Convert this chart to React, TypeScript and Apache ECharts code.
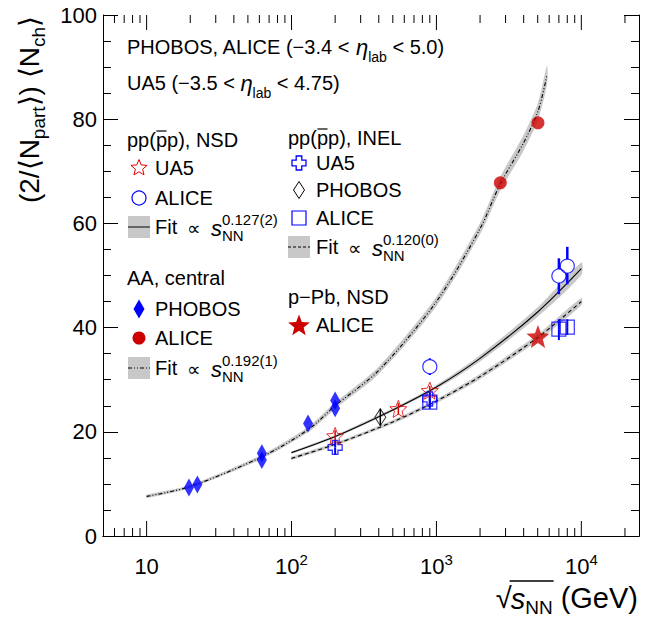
import React, { useEffect, useRef } from "react";
import * as echarts from "echarts";

const FONT = '"Liberation Sans", Arial, Helvetica, sans-serif';
const BLUE = "#0000ff";
const RED = "#cc0000";
const RED_OPEN = "#e00000";
const GRAY = "#c8c8c8";

// ---- axes ----
const xMin = 5;
const xMax = 25000;
const xMajorTicks = [10, 100, 1000, 10000];
const xMinorTicks = [6, 7, 8, 9, 20, 30, 40, 50, 60, 70, 80, 90, 200, 300, 400, 500, 600, 700, 800, 900,
  2000, 3000, 4000, 5000, 6000, 7000, 8000, 9000, 20000];
const xTickLabels: Record<number, string> = { 10: "10", 100: "10{sup|2}", 1000: "10{sup|3}", 10000: "10{sup|4}" };
const yMin = 0;
const yMax = 100;
const yInterval = 20;

// ---- data: [sqrt(sNN) GeV, value] ----
const ua5Nsd = [[200, 19.2], [546, 24.4], [900, 27.9]];
const ua5NsdErr = [[200, 19.2, 18.2, 20.3], [546, 24.4, 23.3, 25.5], [900, 27.9, 27.0, 28.8]];
const aliceNsd = [[900, 32.5], [7000, 49.9], [8000, 51.8]];
const aliceNsdErr = [[900, 32.5, 30.9, 34.1], [7000, 49.9, 46.4, 53.3], [8000, 51.8, 48.3, 55.5]];
const ua5Inel = [[200, 17.0], [900, 26.3]];
const ua5InelErr = [[200, 17.0, 15.6, 18.4], [900, 26.3, 25.1, 27.5]];
const phobosInel = [[410, 22.8]];
const phobosInelErr = [[410, 22.8, 21.2, 24.4]];
const aliceInel = [[900, 25.7], [7000, 39.7], [8000, 40.1]];
const aliceInelErr = [[900, 25.7, 24.4, 27.0], [7000, 39.7, 37.6, 41.6], [8000, 40.1, 38.6, 41.6]];
const phobosAA = [[19.6, 9.3], [22.4, 9.9], [62.4, 14.6], [62.4, 15.9], [130, 21.6], [200, 24.5], [200, 26.0]];
const aliceAA = [[2760, 67.8], [5020, 79.3]];
const alicePPb = [[5020, 38.3]];

// ---- fit curves ----
const fitNsdX = [100, 200, 500, 1000, 2000, 5000, 10000];
const fitNsdY = [16.0, 19.1, 24.2, 28.6, 34.1, 43.0, 51.3];
const fitNsdBand = [0.2, 0.25, 0.3, 0.4, 0.6, 0.9, 1.2];
const fitInelX = [100, 200, 500, 1000, 2000, 5000, 10000];
const fitInelY = [14.9, 17.6, 21.9, 25.9, 30.6, 38.1, 45.0];
const fitInelBand = [0.3, 0.3, 0.35, 0.4, 0.5, 0.6, 0.7];
const fitAAX = [10, 20, 62.4, 130, 200, 400, 1000, 2000, 2760, 4000, 5020, 5800];
const fitAAY = [7.6, 9.5, 15.2, 20.4, 25.0, 31.8, 45.0, 59.0, 67.6, 75.5, 81.5, 88.5];
const fitAABand = [0.3, 0.3, 0.4, 0.5, 0.6, 0.7, 0.9, 1.1, 1.3, 1.5, 1.6, 1.8];

function starPts(cx: number, cy: number, R: number, inner: number) {
  const pts: number[][] = [];
  for (let i = 0; i < 10; i++) {
    const r = i % 2 === 0 ? R : R * inner;
    const a = -Math.PI / 2 + (i * Math.PI) / 5;
    pts.push([cx + r * Math.cos(a), cy + r * Math.sin(a)]);
  }
  return pts;
}
function starPath(inner: number) {
  const p = starPts(50, 50, 50, inner);
  return "path://" + p.map((q, i) => (i ? "L" : "M") + q[0].toFixed(2) + "," + q[1].toFixed(2)).join(" ") + " Z";
}
function crossPts(cx: number, cy: number, s: number) {
  const a = s / 2, b = s * 0.2;
  return [[cx - a, cy - b], [cx - b, cy - b], [cx - b, cy - a], [cx + b, cy - a], [cx + b, cy - b], [cx + a, cy - b],
    [cx + a, cy + b], [cx + b, cy + b], [cx + b, cy + a], [cx - b, cy + a], [cx - b, cy + b], [cx - a, cy + b]];
}
function crossPath() {
  const p = crossPts(50, 50, 100);
  return "path://" + p.map((q, i) => (i ? "L" : "M") + q[0] + "," + q[1]).join(" ") + " Z";
}

let measureCtx: CanvasRenderingContext2D | null = null;
function tw(text: string, size: number, italic = false) {
  if (!measureCtx) measureCtx = document.createElement("canvas").getContext("2d");
  if (!measureCtx) return text.length * size * 0.55;
  measureCtx.font = `${italic ? "italic " : ""}${size}px ${FONT}`;
  return measureCtx.measureText(text).width;
}

function errSeries(data: number[][], color: string, gap: number, width: number) {
  return {
    type: "custom",
    data,
    encode: { x: 0, y: [1, 2, 3] },
    z: 3,
    silent: true,
    renderItem: (_p: any, api: any) => {
      const x = api.value(0), y = api.value(1), lo = api.value(2), hi = api.value(3);
      const pc = api.coord([x, y]);
      const pl = api.coord([x, lo]);
      const ph = api.coord([x, hi]);
      const children: any[] = [];
      const st = { stroke: color, lineWidth: width };
      if (ph[1] < pc[1] - gap) children.push({ type: "line", shape: { x1: pc[0], y1: ph[1], x2: pc[0], y2: pc[1] - gap }, style: st });
      if (pl[1] > pc[1] + gap) children.push({ type: "line", shape: { x1: pc[0], y1: pc[1] + gap, x2: pc[0], y2: pl[1] }, style: st });
      return { type: "group", children };
    },
  };
}

function bandSeries(xs: number[], ys: number[], hw: number[]) {
  return {
    type: "custom",
    data: [[xs[0], ys[0]]],
    z: 1,
    silent: true,
    renderItem: (_p: any, api: any) => {
      const up: number[][] = [];
      const dn: number[][] = [];
      for (let i = 0; i < xs.length; i++) {
        up.push(api.coord([xs[i], ys[i] + hw[i]]));
        dn.push(api.coord([xs[i], ys[i] - hw[i]]));
      }
      return {
        type: "polygon",
        shape: { points: up.concat(dn.reverse()), smooth: 0.25 },
        style: { fill: GRAY, stroke: "none" },
      };
    },
  };
}

function lineSeries(xs: number[], ys: number[], type: any) {
  return {
    type: "line",
    data: xs.map((x, i) => [x, ys[i]]),
    showSymbol: false,
    symbol: "none",
    smooth: 0.3,
    silent: true,
    z: 2,
    lineStyle: { color: "#000", width: 1.1, type },
  };
}

function scatter(data: number[][], symbol: string, size: any, itemStyle: any, z = 5) {
  return { type: "scatter", data, symbol, symbolSize: size, itemStyle, z, silent: true };
}

const openStyle = (c: string, w = 1.3) => ({ color: "rgba(255,255,255,0)", borderColor: c, borderWidth: w });

function txt(x: number, y: number, text: string, size = 20, extra: any = {}) {
  return {
    type: "text",
    x,
    y,
    z: 100,
    style: { text, fontSize: size, fontFamily: FONT, fill: "#000", align: "left", verticalAlign: "middle", ...extra },
  };
}

function fitLabel(x: number, y: number, exp: string) {
  return [
    txt(x, y, "Fit"),
    txt(x + 32, y + 1, "\u221D", 19),
    txt(x + 56, y + 1, "s", 22, { fontStyle: "italic" }),
    txt(x + 67, y - 8, exp, 15),
    txt(x + 67, y + 8, "NN", 15),
  ];
}

function ppHeader(x: number, y: number, rest: string) {
  const x1 = x + tw("pp(", 20);
  const x2 = x + tw("pp(p", 20);
  return [
    txt(x, y, "pp(pp)" + rest),
    { type: "line", z: 100, shape: { x1: x1 + 0.5, y1: y - 9, x2: x2 - 0.5, y2: y - 9 }, style: { stroke: "#000", lineWidth: 1.2 } },
  ];
}

function gray(cx: number, cy: number, w: number, dash: any) {
  return [
    { type: "rect", z: 99, shape: { x: cx - w / 2, y: cy - w / 2, width: w, height: w }, style: { fill: GRAY } },
    { type: "line", z: 100, shape: { x1: cx - w / 2, y1: cy, x2: cx + w / 2, y2: cy }, style: { stroke: "#000", lineWidth: 1, lineDash: dash } },
  ];
}

export default function App() {
  const ref = useRef<HTMLDivElement>(null);
  useEffect(() => {
    if (!ref.current) return;
    const chart = echarts.init(ref.current, null, { renderer: "svg" });

    const Lm = 139, Lt = 155, Rm = 299, Rt = 316;

    // x title pieces, laid out right to left
    const xtSize = 29;
    const gevW = tw("(GeV)", xtSize);
    const gevX = 638 - gevW;
    const nnW = tw("NN", 19);
    const nnX = gevX - tw(" ", xtSize) - nnW;
    const sW = tw("s", xtSize, true);
    const sX = nnX - sW;
    const sqW = tw("\u221A", xtSize);
    const sqX = sX - sqW + 1;
    const xtY = 598;

    const graphic: any[] = [
      {
        type: "text", x: 127, y: 47, z: 100,
        style: {
          text: "PHOBOS, ALICE (\u22123.4 < {eta|\u03B7}{sub|lab} < 5.0)",
          fontSize: 20, fontFamily: FONT, fill: "#000", align: "left", verticalAlign: "middle", lineHeight: 34,
          rich: {
            eta: { fontSize: 22, fontStyle: "italic", fontFamily: FONT, lineHeight: 22 },
            sub: { fontSize: 14, fontFamily: FONT, lineHeight: 14, verticalAlign: "bottom" },
          },
        },
      },
      {
        type: "text", x: 127, y: 83, z: 100,
        style: {
          text: "UA5 (\u22123.5 < {eta|\u03B7}{sub|lab} < 4.75)",
          fontSize: 20, fontFamily: FONT, fill: "#000", align: "left", verticalAlign: "middle", lineHeight: 34,
          rich: {
            eta: { fontSize: 22, fontStyle: "italic", fontFamily: FONT, lineHeight: 22 },
            sub: { fontSize: 14, fontFamily: FONT, lineHeight: 14, verticalAlign: "bottom" },
          },
        },
      },
      ...ppHeader(127, 140, ", NSD"),
      { type: "polygon", z: 100, shape: { points: starPts(Lm, 168, 8.5, 0.45) }, style: { fill: "none", stroke: RED_OPEN, lineWidth: 1 } },
      txt(Lt, 168, "UA5"),
      { type: "circle", z: 100, shape: { cx: Lm, cy: 198, r: 7 }, style: { fill: "none", stroke: BLUE, lineWidth: 1.2 } },
      txt(Lt, 198, "ALICE"),
      ...gray(Lm, 227, 22, null),
      ...fitLabel(Lt, 227, "0.127(2)"),
      txt(127, 278, "AA, central"),
      { type: "polygon", z: 100, shape: { points: [[Lm, 309 - 9.5], [Lm + 5.5, 309], [Lm, 309 + 9.5], [Lm - 5.5, 309]] }, style: { fill: BLUE } },
      txt(Lt, 309, "PHOBOS"),
      { type: "circle", z: 100, shape: { cx: Lm, cy: 338, r: 6.5 }, style: { fill: RED } },
      txt(Lt, 338, "ALICE"),
      ...gray(Lm, 368, 22, [4, 2, 1, 2, 1, 2]),
      ...fitLabel(Lt, 368, "0.192(1)"),

      ...ppHeader(288, 138, ", INEL"),
      { type: "polygon", z: 100, shape: { points: crossPts(Rm, 163, 14) }, style: { fill: "none", stroke: BLUE, lineWidth: 1.3 } },
      txt(Rt, 163, "UA5"),
      { type: "polygon", z: 100, shape: { points: [[Rm, 190 - 8.5], [Rm + 5.5, 190], [Rm, 190 + 8.5], [Rm - 5.5, 190]] }, style: { fill: "none", stroke: "#000", lineWidth: 1 } },
      txt(Rt, 190, "PHOBOS"),
      { type: "rect", z: 100, shape: { x: Rm - 7, y: 218 - 7, width: 14, height: 14 }, style: { fill: "none", stroke: BLUE, lineWidth: 1.2 } },
      txt(Rt, 218, "ALICE"),
      ...gray(Rm, 247, 22, [3, 2]),
      ...fitLabel(Rt, 247, "0.120(0)"),
      txt(288, 297, "p\u2212Pb, NSD"),
      { type: "polygon", z: 100, shape: { points: starPts(Rm, 326, 11.5, 0.42) }, style: { fill: RED } },
      txt(Rt, 325, "ALICE"),

      // y title
      {
        type: "text", x: 29, y: 16, rotation: Math.PI / 2, z: 100,
        style: {
          text: "(2/\u27E8N{sub|part}\u27E9) \u27E8N{sub|ch}\u27E9",
          fontSize: 28, fontFamily: FONT, fill: "#000", align: "right", verticalAlign: "middle", lineHeight: 38,
          rich: { sub: { fontSize: 19, fontFamily: FONT, lineHeight: 19, verticalAlign: "bottom" } },
        },
      },
      // x title
      txt(sqX, xtY, "\u221A", xtSize),
      { type: "line", z: 100, shape: { x1: sqX + sqW - 2, y1: xtY - 17, x2: nnX + nnW + 1, y2: xtY - 17 }, style: { stroke: "#000", lineWidth: 1.3 } },
      txt(sX, xtY + 1, "s", xtSize, { fontStyle: "italic" }),
      txt(nnX, xtY + 9, "NN", 19),
      txt(gevX, xtY, "(GeV)", xtSize),
    ];

    const tickData = [...xMajorTicks.map((v) => [v, 1]), ...xMinorTicks.map((v) => [v, 0])];

    const option: any = {
      animation: false,
      grid: { left: 103, right: 12, top: 15, bottom: 84 },
      xAxis: [
        {
          type: "log", logBase: 10, min: xMin, max: xMax, position: "bottom",
          axisLine: { show: true, lineStyle: { color: "#000", width: 1 } },
          axisTick: { show: false },
          splitLine: { show: false },
          axisLabel: {
            show: true, margin: 16, fontSize: 22, fontFamily: FONT, color: "#000", lineHeight: 28,
            showMinLabel: false, showMaxLabel: false,
            formatter: (v: number) => {
              const k = Math.round(v);
              return xTickLabels[k] !== undefined ? xTickLabels[k] : "";
            },
            rich: { sup: { fontSize: 15, lineHeight: 15, fontFamily: FONT, verticalAlign: "top" } },
          },
        },
        {
          type: "log", logBase: 10, min: xMin, max: xMax, position: "top",
          axisLine: { show: true, lineStyle: { color: "#000", width: 1 } },
          axisTick: { show: false }, axisLabel: { show: false }, splitLine: { show: false },
        },
      ],
      yAxis: [
        {
          type: "value", min: yMin, max: yMax, interval: yInterval, position: "left",
          axisLine: { show: true, lineStyle: { color: "#000", width: 1 } },
          axisTick: { show: true, inside: true, length: 15, lineStyle: { color: "#000" } },
          minorTick: { show: true, splitNumber: 4, length: 8, lineStyle: { color: "#000" } },
          splitLine: { show: false },
          axisLabel: { margin: 6, fontSize: 22, fontFamily: FONT, color: "#000" },
        },
        {
          type: "value", min: yMin, max: yMax, interval: yInterval, position: "right",
          axisLine: { show: true, lineStyle: { color: "#000", width: 1 } },
          axisTick: { show: true, inside: true, length: 15, lineStyle: { color: "#000" } },
          minorTick: { show: true, splitNumber: 4, length: 8, lineStyle: { color: "#000" } },
          splitLine: { show: false },
          axisLabel: { show: false },
        },
      ],
      series: [
        {
          type: "custom", data: tickData, encode: { x: 0, y: 1 }, silent: true, z: 0,
          renderItem: (params: any, api: any) => {
            const v = api.value(0);
            const big = api.value(1);
            const x = api.coord([v, 0])[0];
            const cs = params.coordSys;
            const len = big ? 15 : 8;
            const st = { stroke: "#000", lineWidth: 1 };
            return {
              type: "group",
              children: [
                { type: "line", shape: { x1: x, y1: cs.y + cs.height, x2: x, y2: cs.y + cs.height - len }, style: st },
                { type: "line", shape: { x1: x, y1: cs.y, x2: x, y2: cs.y + len }, style: st },
              ],
            };
          },
        },
        bandSeries(fitAAX, fitAAY, fitAABand),
        bandSeries(fitNsdX, fitNsdY, fitNsdBand),
        bandSeries(fitInelX, fitInelY, fitInelBand),
        lineSeries(fitAAX, fitAAY, [4, 2, 1, 2, 1, 2]),
        lineSeries(fitNsdX, fitNsdY, "solid"),
        lineSeries(fitInelX, fitInelY, [4, 3]),
        errSeries(ua5NsdErr, RED_OPEN, 0, 1.5),
        errSeries(aliceNsdErr, BLUE, 7, 2.5),
        errSeries(ua5InelErr, BLUE, 0, 2),
        errSeries(phobosInelErr, "#000", 0, 1.5),
        errSeries(aliceInelErr, BLUE, 0, 2),
        scatter(phobosAA, "diamond", [10, 18], { color: BLUE }),
        scatter(aliceAA, "circle", 13, { color: RED }),
        scatter(alicePPb, starPath(0.42), 23, { color: RED }),
        scatter(aliceInel, "rect", 14, openStyle(BLUE, 1.2)),
        scatter(ua5Inel, crossPath(), 14, openStyle(BLUE, 1.3)),
        scatter(phobosInel, "diamond", [11, 17], openStyle("#000", 1)),
        scatter(aliceNsd, "circle", 14, openStyle(BLUE, 1.2)),
        scatter(ua5Nsd, starPath(0.45), 17, openStyle(RED_OPEN, 1)),
      ],
      graphic,
    };
    chart.setOption(option);
    return () => chart.dispose();
  }, []);
  return <div ref={ref} style={{ position: "absolute", left: 0, top: 0, width: 651, height: 620 }} />;
}
